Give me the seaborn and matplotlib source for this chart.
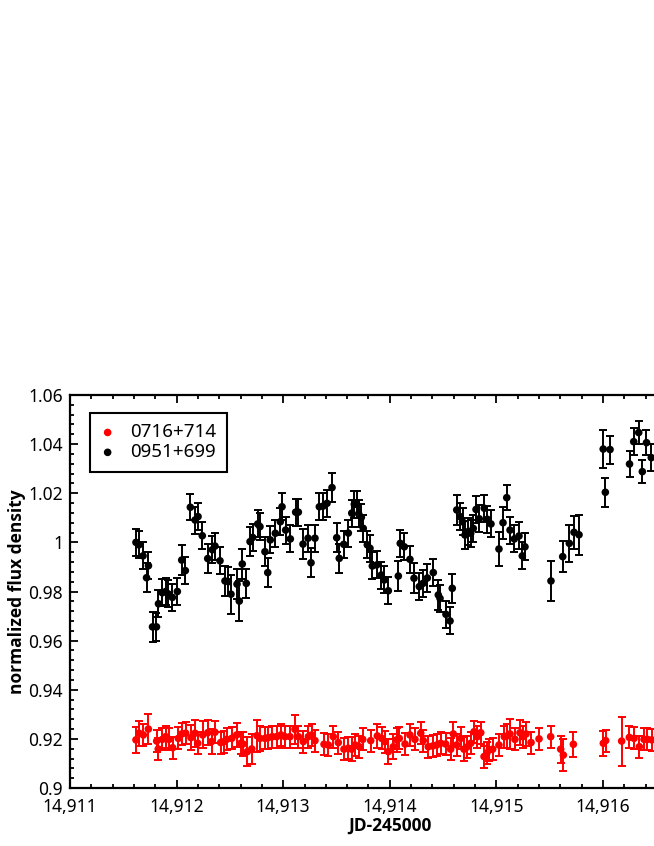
import numpy as np
import matplotlib
matplotlib.use("Agg")
import matplotlib.pyplot as plt
from matplotlib import font_manager
from matplotlib.ticker import MultipleLocator, FuncFormatter
import seaborn as sns

# ─── DATA ────────────────────────────────────────────────────────────────────
# 0951+699 (black)
src2_jd = [14911.619, 14911.647, 14911.685, 14911.718, 14911.736, 14911.774, 14911.811,
           14911.830, 14911.866, 14911.898, 14911.922, 14911.960, 14912.007, 14912.048,
           14912.082, 14912.129, 14912.173, 14912.201, 14912.241, 14912.292, 14912.335,
           14912.360, 14912.407, 14912.454, 14912.485, 14912.510, 14912.567, 14912.588,
           14912.616, 14912.654, 14912.689, 14912.714, 14912.761, 14912.782, 14912.829,
           14912.855, 14912.879, 14912.926, 14912.973, 14912.989, 14913.023, 14913.067,
           14913.117, 14913.142, 14913.186, 14913.233, 14913.261, 14913.298, 14913.339,
           14913.376, 14913.411, 14913.458, 14913.502, 14913.526, 14913.568, 14913.611,
           14913.643, 14913.667, 14913.689, 14913.708, 14913.733, 14913.751, 14913.789,
           14913.814, 14913.836, 14913.877, 14913.920, 14913.948, 14913.986, 14914.080,
           14914.098, 14914.136, 14914.189, 14914.227, 14914.277, 14914.311, 14914.352,
           14914.408, 14914.455, 14914.471, 14914.527, 14914.565, 14914.586, 14914.628,
           14914.659, 14914.682, 14914.705, 14914.736, 14914.759, 14914.783, 14914.809,
           14914.839, 14914.886, 14914.915, 14914.949, 14915.024, 14915.062, 14915.097,
           14915.128, 14915.168, 14915.212, 14915.243, 14915.268, 14915.512, 14915.622,
           14915.684, 14915.728, 14915.775, 14916.002, 14916.022, 14916.066, 14916.249,
           14916.288, 14916.335, 14916.369, 14916.408, 14916.453]
src2_flux = [1.0000, 0.9990, 0.9945, 0.9856, 0.9905, 0.9656, 0.9656, 0.9750, 0.9795, 0.9800,
             0.9790, 0.9776, 0.9800, 0.9928, 0.9885, 1.0143, 1.0091, 1.0105, 1.0027, 0.9934,
             0.9970, 0.9985, 0.9925, 0.9843, 0.9840, 0.9789, 0.9830, 0.9761, 0.9912, 0.9833,
             1.0003, 1.0020, 1.0075, 1.0064, 0.9962, 0.9877, 1.0010, 1.0037, 1.0084, 1.0145,
             1.0050, 1.0014, 1.0123, 1.0123, 0.9993, 1.0017, 0.9917, 1.0017, 1.0145, 1.0148,
             1.0159, 1.0223, 1.0019, 0.9935, 0.9992, 1.0038, 1.0119, 1.0155, 1.0156, 1.0116,
             1.0102, 1.0057, 0.9990, 0.9976, 0.9904, 0.9908, 0.9867, 0.9847, 0.9803, 0.9863,
             0.9996, 0.9982, 0.9931, 0.9854, 0.9820, 0.9833, 0.9855, 0.9877, 0.9786, 0.9772,
             0.9707, 0.9680, 0.9813, 1.0132, 1.0105, 1.0084, 1.0030, 1.0044, 1.0037, 1.0057,
             1.0134, 1.0096, 1.0139, 1.0094, 1.0075, 0.9973, 1.0080, 1.0182, 1.0050, 1.0014,
             1.0026, 0.9945, 0.9982, 0.9843, 0.9942, 0.9996, 1.0041, 1.0031, 1.0380, 1.0204,
             1.0378, 1.0319, 1.0410, 1.0447, 1.0288, 1.0406, 1.0345]
src2_err = [0.0056, 0.0055, 0.0055, 0.0060, 0.0055, 0.0060, 0.0058, 0.0055, 0.0055, 0.0055,
            0.0055, 0.0055, 0.0055, 0.0060, 0.0055, 0.0053, 0.0055, 0.0055, 0.0055, 0.0060,
            0.0055, 0.0055, 0.0055, 0.0060, 0.0060, 0.0080, 0.0060, 0.0080, 0.0060, 0.0060,
            0.0060, 0.0055, 0.0055, 0.0055, 0.0060, 0.0060, 0.0055, 0.0055, 0.0055, 0.0055,
            0.0055, 0.0055, 0.0055, 0.0055, 0.0060, 0.0055, 0.0060, 0.0055, 0.0055, 0.0055,
            0.0055, 0.0060, 0.0060, 0.0060, 0.0055, 0.0055, 0.0055, 0.0055, 0.0055, 0.0055,
            0.0055, 0.0055, 0.0055, 0.0055, 0.0055, 0.0055, 0.0055, 0.0055, 0.0055, 0.0060,
            0.0055, 0.0055, 0.0055, 0.0060, 0.0055, 0.0055, 0.0055, 0.0055, 0.0060, 0.0055,
            0.0055, 0.0055, 0.0060, 0.0060, 0.0055, 0.0055, 0.0055, 0.0055, 0.0055, 0.0055,
            0.0055, 0.0055, 0.0055, 0.0055, 0.0055, 0.0070, 0.0065, 0.0050, 0.0055, 0.0055,
            0.0055, 0.0055, 0.0055, 0.0082, 0.0064, 0.0075, 0.0068, 0.0082, 0.0078, 0.0060,
            0.0057, 0.0053, 0.0054, 0.0048, 0.0048, 0.0052, 0.0055]

# 0716+714 (red)
src1_jd = [14911.619, 14911.647, 14911.688, 14911.735, 14911.813, 14911.828, 14911.866,
           14911.898, 14911.929, 14911.963, 14912.016, 14912.048, 14912.085, 14912.135,
           14912.173, 14912.198, 14912.245, 14912.292, 14912.329, 14912.360, 14912.414,
           14912.445, 14912.470, 14912.517, 14912.564, 14912.601, 14912.623, 14912.663,
           14912.705, 14912.754, 14912.782, 14912.829, 14912.860, 14912.898, 14912.939,
           14912.979, 14913.017, 14913.064, 14913.111, 14913.142, 14913.189, 14913.236,
           14913.267, 14913.298, 14913.383, 14913.423, 14913.470, 14913.517, 14913.570,
           14913.611, 14913.643, 14913.674, 14913.714, 14913.746, 14913.821, 14913.883,
           14913.924, 14913.955, 14913.986, 14914.033, 14914.065, 14914.089, 14914.143,
           14914.189, 14914.236, 14914.290, 14914.314, 14914.361, 14914.402, 14914.440,
           14914.477, 14914.524, 14914.571, 14914.596, 14914.628, 14914.665, 14914.696,
           14914.721, 14914.759, 14914.790, 14914.821, 14914.853, 14914.884, 14914.909,
           14914.933, 14914.965, 14915.024, 14915.074, 14915.102, 14915.128, 14915.174,
           14915.221, 14915.247, 14915.278, 14915.325, 14915.400, 14915.509, 14915.603,
           14915.628, 14915.722, 14916.003, 14916.025, 14916.175, 14916.247, 14916.291,
           14916.341, 14916.385, 14916.416, 14916.457]
src1_flux = [0.9196, 0.9223, 0.9216, 0.9240, 0.9191, 0.9159, 0.9198, 0.9209, 0.9198, 0.9164,
             0.9202, 0.9220, 0.9223, 0.9205, 0.9223, 0.9182, 0.9216, 0.9225, 0.9189, 0.9227,
             0.9185, 0.9189, 0.9198, 0.9202, 0.9216, 0.9182, 0.9179, 0.9148, 0.9159, 0.9213,
             0.9202, 0.9202, 0.9205, 0.9209, 0.9209, 0.9216, 0.9209, 0.9209, 0.9239, 0.9209,
             0.9189, 0.9209, 0.9216, 0.9193, 0.9178, 0.9175, 0.9209, 0.9185, 0.9158, 0.9162,
             0.9158, 0.9175, 0.9168, 0.9198, 0.9193, 0.9212, 0.9202, 0.9189, 0.9148, 0.9168,
             0.9196, 0.9202, 0.9179, 0.9216, 0.9198, 0.9223, 0.9193, 0.9168, 0.9171, 0.9175,
             0.9182, 0.9179, 0.9158, 0.9220, 0.9175, 0.9202, 0.9158, 0.9166, 0.9182, 0.9229,
             0.9209, 0.9225, 0.9128, 0.9141, 0.9155, 0.9158, 0.9175, 0.9209, 0.9212, 0.9220,
             0.9198, 0.9225, 0.9209, 0.9220, 0.9185, 0.9200, 0.9209, 0.9158, 0.9134, 0.9178,
             0.9182, 0.9193, 0.9191, 0.9206, 0.9202, 0.9168, 0.9198, 0.9198, 0.9196]
src1_err = [0.0052, 0.0050, 0.0045, 0.0060, 0.0045, 0.0045, 0.0045, 0.0045, 0.0045, 0.0045,
            0.0045, 0.0045, 0.0045, 0.0050, 0.0055, 0.0045, 0.0055, 0.0050, 0.0050, 0.0045,
            0.0045, 0.0045, 0.0045, 0.0045, 0.0050, 0.0045, 0.0050, 0.0060, 0.0060, 0.0065,
            0.0050, 0.0045, 0.0045, 0.0045, 0.0045, 0.0045, 0.0045, 0.0045, 0.0060, 0.0045,
            0.0045, 0.0045, 0.0045, 0.0045, 0.0045, 0.0045, 0.0045, 0.0045, 0.0045, 0.0045,
            0.0050, 0.0045, 0.0045, 0.0045, 0.0045, 0.0050, 0.0045, 0.0045, 0.0050, 0.0050,
            0.0050, 0.0045, 0.0045, 0.0045, 0.0045, 0.0045, 0.0045, 0.0045, 0.0045, 0.0045,
            0.0045, 0.0045, 0.0045, 0.0050, 0.0045, 0.0045, 0.0050, 0.0045, 0.0045, 0.0045,
            0.0045, 0.0045, 0.0045, 0.0045, 0.0045, 0.0045, 0.0045, 0.0045, 0.0050, 0.0060,
            0.0045, 0.0050, 0.0045, 0.0050, 0.0045, 0.0045, 0.0045, 0.0055, 0.0065, 0.0050,
            0.0050, 0.0045, 0.0100, 0.0045, 0.0045, 0.0045, 0.0045, 0.0045, 0.0045]

src_labels = ["0716+714", "0951+699"]
x_ticks = [14911, 14912, 14913, 14914, 14915, 14916]
x_ticklabels = ["14,911", "14,912", "14,913", "14,914", "14,915", "14,916"]

# ─── STYLE ───────────────────────────────────────────────────────────────────
sns.set_theme(style="ticks")
plt.rcParams["font.family"] = ["Noto Sans", "DejaVu Sans"]
plt.rcParams["axes.linewidth"] = 1.5
plt.rcParams["text.color"] = "black"
plt.rcParams["axes.labelcolor"] = "black"


def bold_family():
    # first family that really ships a bold face
    for fam in ["Noto Sans", "Open Sans", "Lato", "Roboto", "Liberation Sans"]:
        try:
            path = font_manager.findfont(
                font_manager.FontProperties(family=fam, weight="bold"),
                fallback_to_default=False)
        except Exception:
            continue
        if "bold" in path.lower():
            return fam
    return "DejaVu Sans"


BOLD = bold_family()

fig = plt.figure(figsize=(6.54, 8.46), dpi=100)
# axis box runs past the right border, as in the cropped reference
ax = fig.add_axes([70 / 654, 58 / 846, 639.6 / 654, 393 / 846])

ebar = dict(fmt="none", elinewidth=1.4, capsize=2.8, capthick=1.4, zorder=2)
ax.errorbar(src1_jd, src1_flux, yerr=src1_err, ecolor="#ff0000", **ebar)
ax.errorbar(src2_jd, src2_flux, yerr=src2_err, ecolor="black", **ebar)

sns.scatterplot(x=src1_jd, y=src1_flux, color="#ff0000", s=30, edgecolor="none",
                label=src_labels[0], ax=ax, zorder=3)
sns.scatterplot(x=src2_jd, y=src2_flux, color="black", s=30, edgecolor="none",
                label=src_labels[1], ax=ax, zorder=3)

ax.set_xlim(14911, 14917)
ax.set_ylim(0.9, 1.06)
ax.set_xticks(x_ticks)
ax.set_xticklabels(x_ticklabels)
ax.xaxis.set_minor_locator(MultipleLocator(0.2))
ax.yaxis.set_major_locator(MultipleLocator(0.02))
ax.yaxis.set_minor_locator(MultipleLocator(0.004))
ax.yaxis.set_major_formatter(FuncFormatter(lambda v, p: f"{v:g}"))

ax.tick_params(which="both", direction="in", top=True, right=False,
               colors="black", labelsize=12.5, width=1.3)
ax.tick_params(which="major", length=6, pad=7)
ax.tick_params(which="minor", length=3.2)
ax.tick_params(axis="y", which="major", pad=5)
for s in ["left", "bottom", "top"]:
    ax.spines[s].set_color("black")
    ax.spines[s].set_linewidth(1.6)
ax.spines["right"].set_visible(False)

ax.set_xlabel("JD-245000", fontsize=12.5, fontweight="bold", family=BOLD, labelpad=1)
ax.set_ylabel("normalized flux density", fontsize=12.5, fontweight="bold", family=BOLD,
              labelpad=2)

leg = ax.legend(loc="upper left", bbox_to_anchor=(0.031, 0.954), borderaxespad=0,
                fontsize=13.5, frameon=True, fancybox=False, framealpha=1,
                handlelength=0.8, handletextpad=0.8, borderpad=0.55,
                labelspacing=0.1, markerscale=1.0)
leg.get_frame().set_edgecolor("black")
leg.get_frame().set_linewidth(1.5)
for t in leg.get_texts():
    t.set_color("black")

plt.savefig("out.png", dpi=100)
plt.close()
